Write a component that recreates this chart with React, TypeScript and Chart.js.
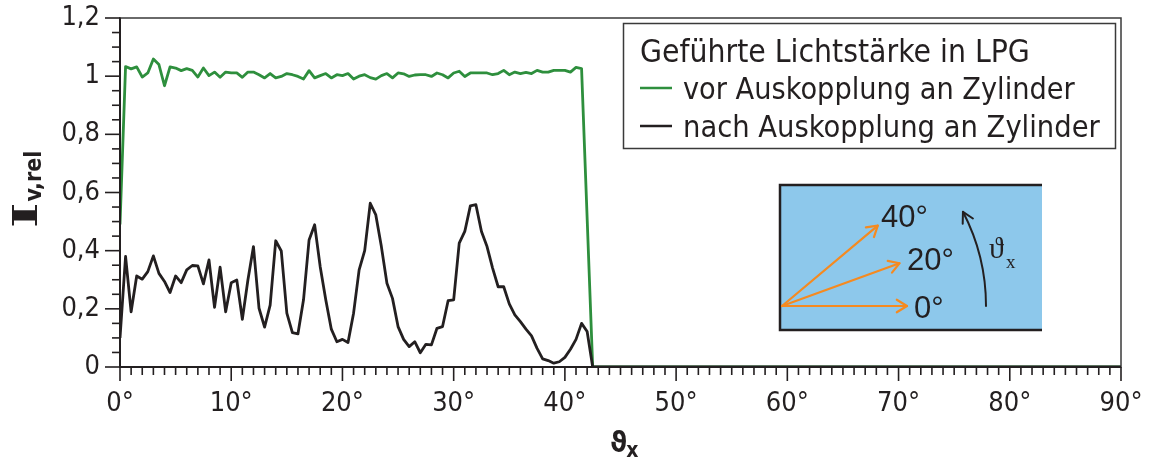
import React, { useEffect, useRef } from "react";
import { Chart, registerables } from "chart.js";

Chart.register(...registerables);

// ---------- data ----------
const greenAngles = [
  0, 0.5, 1, 1.5, 2, 2.5, 3, 3.5, 4, 4.5, 5, 5.5, 6, 6.5, 7, 7.5, 8, 8.5, 9, 9.5,
  10, 10.5, 11, 11.5, 12, 12.5, 13, 13.5, 14, 14.5, 15, 15.5, 16, 16.5, 17, 17.5, 18, 18.5, 19, 19.5,
  20, 20.5, 21, 21.5, 22, 22.5, 23, 23.5, 24, 24.5, 25, 25.5, 26, 26.5, 27, 27.5, 28, 28.5, 29, 29.5,
  30, 30.5, 31, 31.5, 32, 32.5, 33, 33.5, 34, 34.5, 35, 35.5, 36, 36.5, 37, 37.5, 38, 38.5, 39, 39.5,
  40, 40.5, 41, 41.5, 42.5, 90,
];
const greenValues = [
  0.49, 1.033, 1.025, 1.032, 0.997, 1.011, 1.059, 1.04, 0.967, 1.032, 1.028, 1.019, 1.026, 1.02, 0.997, 1.028, 1.002, 1.014, 0.996, 1.014,
  1.011, 1.011, 0.996, 1.014, 1.014, 1.005, 0.994, 1.009, 0.994, 0.999, 1.009, 1.005, 0.999, 0.99, 1.019, 0.994, 1.002, 1.009, 0.994, 1.005,
  1.002, 1.009, 0.99, 1.0, 1.005, 0.995, 0.99, 1.002, 1.009, 0.994, 1.011, 1.008, 0.999, 1.004, 1.005, 1.005, 0.999, 1.011, 1.005, 0.994,
  1.011, 1.017, 0.999, 1.011, 1.011, 1.011, 1.011, 1.005, 1.009, 1.02, 1.005, 1.014, 1.009, 1.013, 1.009, 1.02, 1.014, 1.014, 1.02, 1.02,
  1.02, 1.014, 1.03, 1.026, 0, 0,
];
const blackAngles = [
  0, 0.5, 1, 1.5, 2, 2.5, 3, 3.5, 4, 4.5, 5, 5.5, 6, 6.5, 7, 7.5, 8, 8.5, 9, 9.5,
  10, 10.5, 11, 11.5, 12, 12.5, 13, 13.5, 14, 14.5, 15, 15.5, 16, 16.5, 17, 17.5, 18, 18.5, 19, 19.5,
  20, 20.5, 21, 21.5, 22, 22.5, 23, 23.5, 24, 24.5, 25, 25.5, 26, 26.5, 27, 27.5, 28, 28.5, 29, 29.5,
  30, 30.5, 31, 31.5, 32, 32.5, 33, 33.5, 34, 34.5, 35, 35.5, 36, 36.5, 37, 37.5, 38, 38.5, 39, 39.5,
  40, 40.5, 41, 41.5, 42, 42.5, 90,
];
const blackValues = [
  0.1, 0.38, 0.19, 0.313, 0.302, 0.328, 0.382, 0.322, 0.294, 0.256, 0.313, 0.29, 0.334, 0.349, 0.348, 0.286, 0.368, 0.205, 0.343, 0.19,
  0.29, 0.299, 0.164, 0.299, 0.414, 0.202, 0.137, 0.213, 0.434, 0.399, 0.185, 0.118, 0.114, 0.231, 0.437, 0.489, 0.345, 0.231, 0.13, 0.087,
  0.095, 0.084, 0.185, 0.334, 0.4, 0.563, 0.523, 0.414, 0.288, 0.236, 0.139, 0.095, 0.07, 0.087, 0.049, 0.078, 0.076, 0.133, 0.139, 0.228,
  0.231, 0.426, 0.466, 0.554, 0.558, 0.466, 0.414, 0.34, 0.276, 0.276, 0.217, 0.179, 0.156, 0.13, 0.107, 0.064, 0.028, 0.022, 0.013, 0.018,
  0.033, 0.061, 0.095, 0.15, 0.122, 0, 0,
];
const xTickValues = [0, 10, 20, 30, 40, 50, 60, 70, 80, 90];
const yTickValues = [0, 0.2, 0.4, 0.6, 0.8, 1, 1.2];
const legendTitle = "Geführte Lichtstärke in LPG";
const seriesNames = ["vor Auskopplung an Zylinder", "nach Auskopplung an Zylinder"];
const seriesColors = ["#2e8f3d", "#231f20"];
const insetAngles = [0, 20, 40];
const insetLabels = ["0°", "20°", "40°"];

// ---------- styling ----------
const SANS = '"DejaVu Sans Condensed", "DejaVu Sans", sans-serif';
const TEXT = "#231f20";
const ORANGE = "#f58a20";

function fmtY(v: number): string {
  const r = Math.round(v * 10) / 10;
  return String(r).replace(".", ",");
}

function fitText(ctx: CanvasRenderingContext2D, text: string, x: number, y: number, width: number, family: string) {
  ctx.font = `30px ${family}`;
  const w = ctx.measureText(text).width;
  const size = (30 * width) / w;
  ctx.font = `${size}px ${family}`;
  ctx.fillText(text, x, y);
}

function seg(ctx: CanvasRenderingContext2D, x1: number, y1: number, x2: number, y2: number) {
  ctx.beginPath();
  ctx.moveTo(x1, y1);
  ctx.lineTo(x2, y2);
  ctx.stroke();
}

function arrowHead(ctx: CanvasRenderingContext2D, tx: number, ty: number, ang: number, len: number, spread: number) {
  ctx.beginPath();
  ctx.moveTo(tx - len * Math.cos(ang - spread), ty - len * Math.sin(ang - spread));
  ctx.lineTo(tx, ty);
  ctx.lineTo(tx - len * Math.cos(ang + spread), ty - len * Math.sin(ang + spread));
  ctx.stroke();
}

const decorPlugin = {
  id: "decor",
  afterDraw(chart: any) {
    const ctx: CanvasRenderingContext2D = chart.ctx;
    const a = chart.chartArea;
    const xs = chart.scales.x;
    const ys = chart.scales.y;
    ctx.save();

    // frame
    ctx.strokeStyle = "#3a3a3a";
    ctx.lineWidth = 1.5;
    ctx.strokeRect(a.left, a.top, a.right - a.left, a.bottom - a.top);
    ctx.strokeStyle = TEXT;
    ctx.lineWidth = 2;
    seg(ctx, a.left, a.top - 0.5, a.left, a.bottom + 1);
    seg(ctx, a.left - 1, a.bottom, a.right, a.bottom);

    // ticks
    ctx.lineWidth = 1.6;
    for (let i = 0; i <= 24; i++) {
      const py = ys.getPixelForValue(i * 0.05);
      const len = i % 4 === 0 ? 15 : 8;
      seg(ctx, a.left - len, py, a.left, py);
    }
    for (let i = 0; i <= 90; i++) {
      const px = xs.getPixelForValue(i);
      const len = i % 10 === 0 ? 14 : 8;
      seg(ctx, px, a.bottom, px, a.bottom + len);
    }

    // y-axis title
    ctx.save();
    ctx.fillStyle = TEXT;
    ctx.translate(37, 228);
    ctx.rotate(-Math.PI / 2);
    ctx.textAlign = "left";
    ctx.textBaseline = "alphabetic";
    ctx.font = 'bold 34px "DejaVu Serif", "Liberation Serif", serif';
    ctx.save();
    ctx.scale(1.6, 1);
    ctx.fillText("I", 0, 0);
    ctx.restore();
    const iw = ctx.measureText("I").width * 1.6;
    ctx.font = `bold 23px ${SANS}`;
    ctx.fillText("v,rel", iw + 1, 4);
    ctx.restore();

    // x-axis title
    ctx.fillStyle = TEXT;
    ctx.textAlign = "left";
    ctx.textBaseline = "alphabetic";
    ctx.font = `bold 29px ${SANS}`;
    ctx.fillText("ϑ", 610, 452);
    const tw = ctx.measureText("ϑ").width;
    ctx.font = `bold 21px ${SANS}`;
    ctx.fillText("x", 610 + tw - 1, 457);

    // legend
    const lx = 623, ly = 23, lw = 492, lh = 125;
    ctx.fillStyle = "#ffffff";
    ctx.fillRect(lx, ly, lw, lh);
    ctx.strokeStyle = "#3a3a3a";
    ctx.lineWidth = 1.5;
    ctx.strokeRect(lx + 0.5, ly + 0.5, lw, lh);
    ctx.fillStyle = TEXT;
    fitText(ctx, legendTitle, 640, 62, 390, SANS);
    ctx.lineWidth = 2.5;
    ctx.strokeStyle = seriesColors[0];
    seg(ctx, 640, 88, 672, 88);
    ctx.strokeStyle = seriesColors[1];
    seg(ctx, 640, 126, 672, 126);
    ctx.fillStyle = TEXT;
    fitText(ctx, seriesNames[0], 683, 99, 392, SANS);
    fitText(ctx, seriesNames[1], 683, 137, 417, SANS);

    // inset
    const ix0 = 780, iy0 = 185, ix1 = 1042, iy1 = 330;
    ctx.fillStyle = "#8dc8eb";
    ctx.fillRect(ix0, iy0, ix1 - ix0, iy1 - iy0);
    ctx.strokeStyle = TEXT;
    ctx.lineWidth = 2.5;
    ctx.beginPath();
    ctx.moveTo(ix1, iy0);
    ctx.lineTo(ix0, iy0);
    ctx.lineTo(ix0, iy1);
    ctx.lineTo(ix1, iy1);
    ctx.stroke();

    const ox = 782, oy = 306, alen = 125;
    ctx.strokeStyle = ORANGE;
    ctx.lineWidth = 2.2;
    ctx.lineCap = "round";
    ctx.lineJoin = "round";
    insetAngles.forEach((deg) => {
      const r = (deg * Math.PI) / 180;
      const tx = ox + alen * Math.cos(r);
      const ty = oy - alen * Math.sin(r);
      seg(ctx, ox, oy, tx, ty);
      arrowHead(ctx, tx, ty, -r, 12, 0.55);
    });
    ctx.fillStyle = TEXT;
    ctx.font = '31px "Liberation Sans", Arial, sans-serif';
    ctx.textAlign = "left";
    ctx.textBaseline = "alphabetic";
    const labelPos = [
      [914, 318],
      [907, 270],
      [881, 227],
    ];
    insetLabels.forEach((t, i) => ctx.fillText(t, labelPos[i][0], labelPos[i][1]));

    // rotation arc arrow
    const rad = 204;
    const endA = (27.5 * Math.PI) / 180;
    ctx.strokeStyle = TEXT;
    ctx.lineWidth = 2;
    ctx.beginPath();
    ctx.arc(ox, oy, rad, 0, -endA, true);
    ctx.stroke();
    const ex = ox + rad * Math.cos(endA);
    const ey = oy - rad * Math.sin(endA);
    arrowHead(ctx, ex, ey, Math.atan2(-Math.cos(endA), -Math.sin(endA)), 12, 0.5);
    ctx.font = '30px "Liberation Serif", "DejaVu Serif", serif';
    ctx.fillText("ϑ", 989, 258);
    ctx.font = '19px "Liberation Serif", "DejaVu Serif", serif';
    ctx.fillText("x", 1006, 268);

    ctx.restore();
  },
};

export default function App() {
  const canvasRef = useRef<HTMLCanvasElement | null>(null);

  useEffect(() => {
    document.body.style.margin = "0";
    const canvas = canvasRef.current;
    if (!canvas) return;
    const green = greenAngles.map((x, i) => ({ x, y: greenValues[i] }));
    const black = blackAngles.map((x, i) => ({ x, y: blackValues[i] }));
    const tickFont = { family: SANS, size: 27 };

    const chart = new Chart(canvas, {
      type: "line",
      data: {
        datasets: [
          {
            label: seriesNames[1],
            data: black,
            borderColor: seriesColors[1],
            borderWidth: 2.8,
            pointRadius: 0,
            tension: 0,
            borderJoinStyle: "round",
            order: 0,
          },
          {
            label: seriesNames[0],
            data: green,
            borderColor: seriesColors[0],
            borderWidth: 2.8,
            pointRadius: 0,
            tension: 0,
            borderJoinStyle: "round",
            order: 1,
          },
        ],
      },
      options: {
        responsive: false,
        animation: false,
        devicePixelRatio: 1,
        layout: { padding: { left: 0, right: 33, top: 18, bottom: 0 } },
        plugins: { legend: { display: false }, tooltip: { enabled: false } },
        scales: {
          x: {
            type: "linear",
            min: 0,
            max: 90,
            afterFit: (s: any) => {
              s.height = 92;
              s.paddingLeft = 0;
              s.paddingRight = 0;
            },
            afterBuildTicks: (s: any) => {
              s.ticks = xTickValues.map((v) => ({ value: v }));
            },
            ticks: {
              callback: (v: any) => `${v}°`,
              font: tickFont,
              color: TEXT,
              padding: 21,
              maxRotation: 0,
              autoSkip: false,
            },
            grid: { display: false, drawTicks: false },
            border: { display: false },
          },
          y: {
            type: "linear",
            min: 0,
            max: 1.2,
            afterFit: (s: any) => {
              s.width = 120;
              s.paddingTop = 0;
              s.paddingBottom = 0;
            },
            afterBuildTicks: (s: any) => {
              s.ticks = yTickValues.map((v) => ({ value: v }));
            },
            ticks: {
              callback: (v: any) => fmtY(Number(v)),
              font: tickFont,
              color: TEXT,
              padding: 20,
            },
            grid: { display: false, drawTicks: false },
            border: { display: false },
          },
        },
      },
      plugins: [decorPlugin],
    } as any);

    return () => chart.destroy();
  }, []);

  return (
    <div style={{ position: "relative", width: 1154, height: 459 }}>
      <canvas ref={canvasRef} width={1154} height={459} style={{ display: "block" }} />
    </div>
  );
}
